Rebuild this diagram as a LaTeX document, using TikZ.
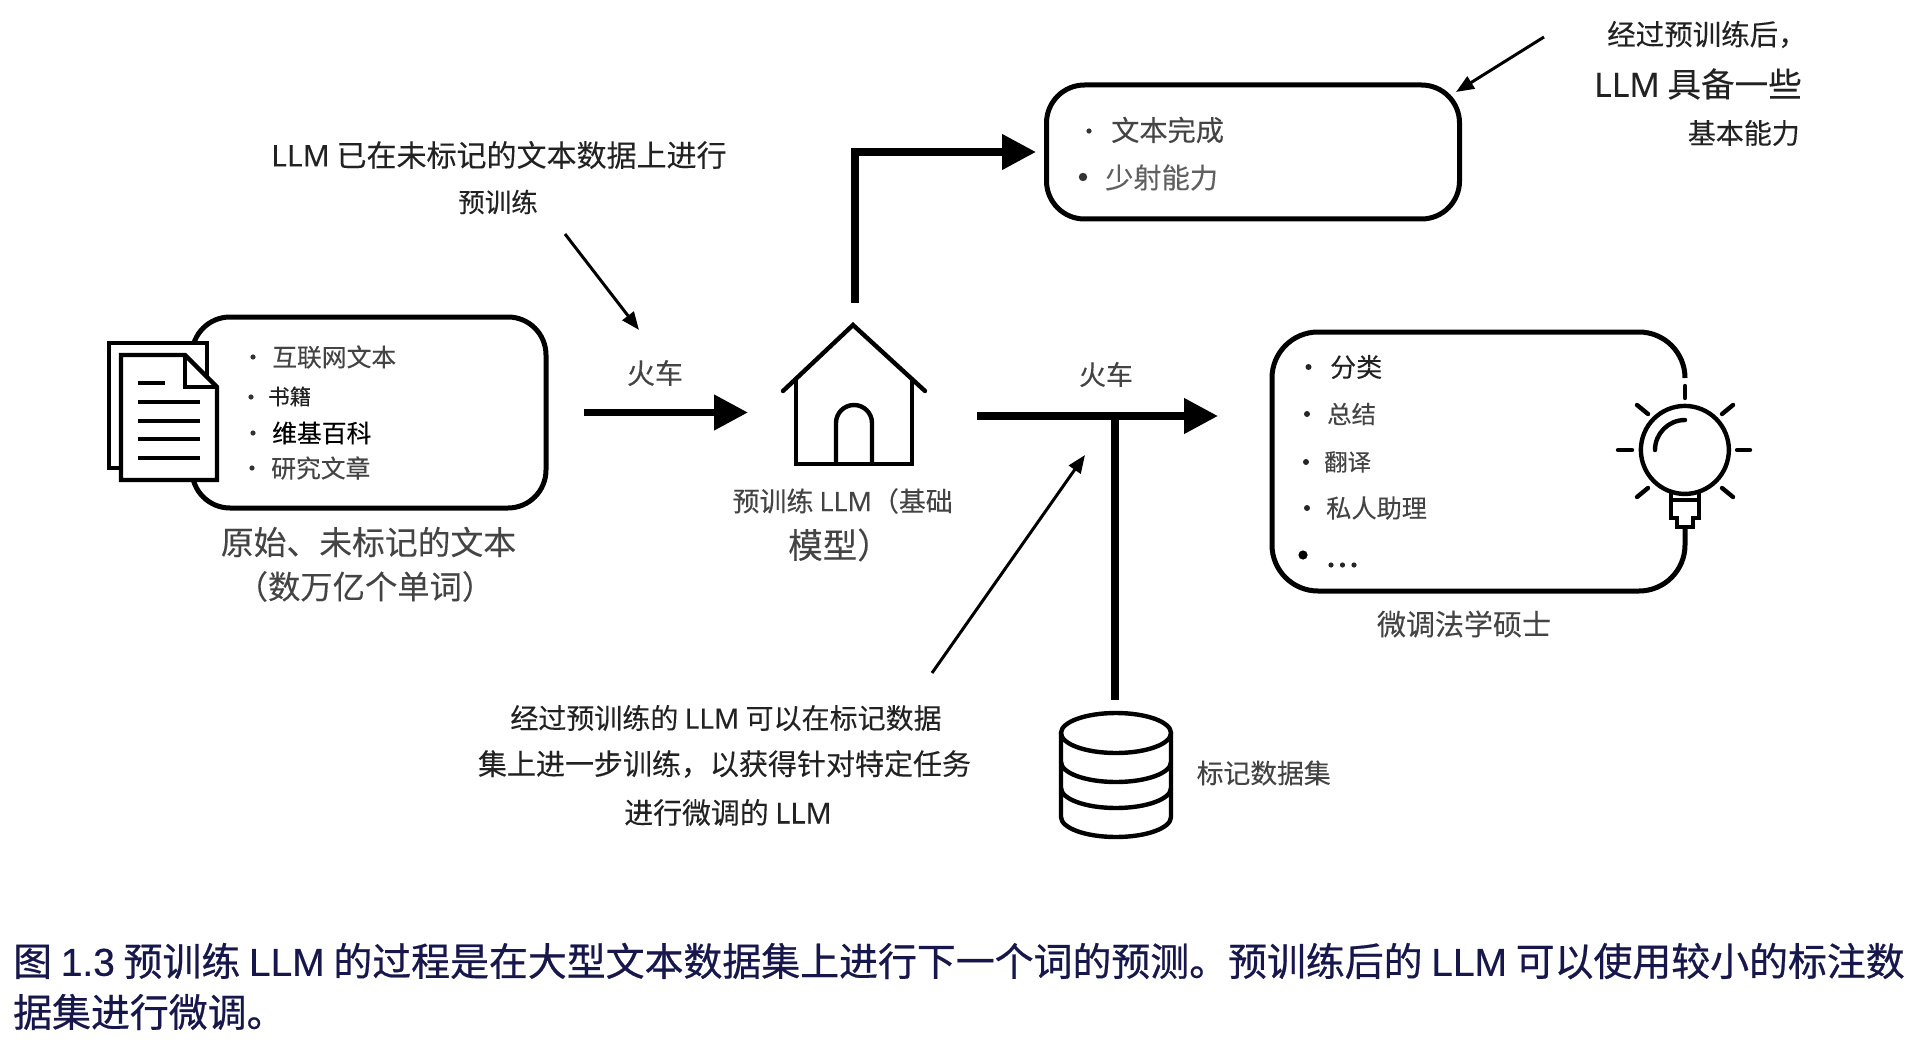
\documentclass[tikz,border=0pt]{standalone}
\usepackage{fontspec}
\usetikzlibrary{arrows.meta}
\setmainfont[FakeBold=0.15]{Noto Sans CJK SC}
\newfontfamily\latfont[FakeBold=0.15]{Noto Sans}
\newfontfamily\capcjk[FakeBold=0.6]{Noto Sans CJK SC}
\newfontfamily\capfont[FakeBold=0.4]{Liberation Sans}
\newcommand{\fs}[1]{\fontsize{#1}{#1}\selectfont}
\definecolor{txt}{HTML}{444444}
\definecolor{txtd}{HTML}{222222}
\definecolor{capc}{HTML}{17174C}
\tikzset{
  bigbox/.style={draw=black,line width=5pt,rounded corners=38pt,fill=white,inner sep=0pt},
  icon/.style={draw=black,line width=4.4pt,line join=miter},
  ray/.style={draw=black,line width=4.4pt,line cap=round},
  thick arrow/.style={draw=black,line width=7.5pt,-{Triangle[length=34pt,width=34pt]}},
  thin arrow/.style={draw=black,line width=3pt,-{Triangle[length=18pt,width=14pt]}},
  lbl/.style={inner sep=0pt,text=txt,align=center},
  lblw/.style={inner sep=0pt,text=txt,anchor=west},
  bullet/.style={fill=black!80},
}
\begin{document}
\begin{tikzpicture}[x=1pt,y=-1pt]
\useasboundingbox (0,0) rectangle (1914,1043);
\fill[white] (0,0) rectangle (1914,1043);

% --- source box
\node[bigbox,minimum width=354pt,minimum height=191pt] (srcbox) at (369,412.5) {};
% document icon
\path[icon,fill=white] (109,343) -- (207,343) -- (207,468) -- (109,468) -- cycle;
\path[icon,fill=white] (121,355) -- (185,355) -- (217,387) -- (217,480) -- (121,480) -- cycle;
\path[icon] (185,355) -- (185,387) -- (217,387);
\path[icon] (138,383) -- (165,383);
\foreach \yy in {402,421,439,458} \path[icon] (138,\yy) -- (200,\yy);

\foreach \xx/\yy in {253/357,251/397,253/433,252/468} \fill[bullet] (\xx,\yy) circle (2.6);
\node[lblw,font=\fs{24.8}] (s1) at (272,357) {互联网文本};
\node[lblw,font=\fs{21.5},text=txtd] (s2) at (268,396.5) {书籍};
\node[lblw,font=\fs{24.8},text=black] (s3) at (272,433) {维基百科};
\node[lblw,font=\fs{24.8}] (s4) at (271,468) {研究文章};
\node[lbl,font=\fs{32.8}] (srccap1) at (368.5,542) {原始、未标记的文本};
\node[lbl,font=\fs{32.3}] (srccap2) at (365,586.5) {（数万亿个单词）};

% --- training note
\node[lblw,font=\fs{30},text=txtd] (note1) at (271,155) {{\latfont LLM} 已在未标记的文本数据上进行};
\node[lbl,font=\fs{26.5},text=txtd] (note1b) at (498,202) {预训练};
\coordinate (n1s) at (565,234);
\coordinate (n1e) at (639,330);
\draw[thin arrow] (n1s) -- (n1e);

% --- arrow 1
\coordinate (a1s) at (584,412.5);
\coordinate (a1e) at (748,412.5);
\draw[thick arrow] (a1s) -- (a1e);
\node[lbl,font=\fs{28}] (train1) at (655,373) {火车};

% --- house
\path[icon,line cap=round] (783,391) -- (853,325) -- (925,391);
\path[icon] (796,380) -- (796,464) -- (912,464) -- (912,380);
\path[icon] (836,464) -- (836,423) arc[start angle=180,end angle=360,radius=18] -- (872,464);
\node[lblw,font=\fs{26.9}] (base1) at (732.5,501) {预训练 {\latfont LLM}（基础};
\node[lblw,font=\fs{34.5}] (base2) at (788,545) {模型）};

% --- up arrow
\coordinate (u1) at (855,303);
\coordinate (u2) at (855,152);
\coordinate (u3) at (1036,152);
\draw[thick arrow] (u1) -- (u2) -- (u3);

% --- top box
\node[bigbox,minimum width=413pt,minimum height=134pt] (topbox) at (1253,152) {};
\fill[bullet] (1089,131) circle (2.6);
\fill[bullet] (1083,177) circle (4.2);
\node[lblw,font=\fs{28.2}] (t1) at (1111,130) {文本完成};
\node[lblw,font=\fs{28.2},text=txt!85] (t2) at (1105,177.5) {少射能力};
\node[lblw,font=\fs{28.5},text=txtd] (c1) at (1607,34.5) {经过预训练后，};
\node[anchor=east,inner sep=0pt,font=\fs{33.6},text=txtd] (c2) at (1802,84) {{\latfont LLM} 具备一些};
\node[anchor=east,inner sep=0pt,font=\fs{28},text=txtd] (c3) at (1800,133) {基本能力};
\coordinate (c1s) at (1544,37);
\coordinate (c1e) at (1456,92);
\draw[thin arrow] (c1s) -- (c1e);

% --- main arrow 2
\coordinate (a2s) at (977,416);
\coordinate (a2e) at (1218,416);
\coordinate (vj) at (1115,416);
\coordinate (vb) at (1115,700);
\draw[thick arrow] (a2s) -- (a2e);
\draw[draw=black,line width=8pt] (vj) -- (vb);
\node[lbl,font=\fs{27}] (train2) at (1106,374.5) {火车};

% --- tuned box (open at the bulb)
\path[draw=black,line width=5pt] (1685,378) arc[start angle=0,end angle=-90,radius=46] -- (1318,332) arc[start angle=-90,end angle=-180,radius=46] -- (1272,545) arc[start angle=180,end angle=90,radius=46] -- (1639,591) arc[start angle=90,end angle=0,radius=46] -- (1685,528);

\foreach \xx/\yy in {1308.5/367,1307/414,1306/462,1307/508} \fill[black!85] (\xx,\yy) circle (3);
\fill[black] (1303,555) circle (4.6);
\node[lblw,font=\fs{26},text=txtd] (f1) at (1330,367) {分类};
\node[lblw,font=\fs{24.4}] (f2) at (1327,414) {总结};
\node[lblw,font=\fs{23.4}] (f3) at (1324,462) {翻译};
\node[lblw,font=\fs{25.2}] (f4) at (1326,508) {私人助理};
\foreach \xx in {1331,1342.5,1354} \fill[black!85] (\xx,565) circle (2.6);
\node[lbl,font=\fs{29}] (f5) at (1464,624) {微调法学硕士};

% bulb
\begin{scope}[xshift=-2pt]
\path[ray] (1687,386) -- (1687,398);
\path[ray] (1639,405) -- (1650,414);
\path[ray] (1735,405) -- (1724,414);
\path[ray] (1620,450) -- (1634,450);
\path[ray] (1739,450) -- (1752,450);
\path[ray] (1639,497) -- (1650,488);
\path[ray] (1735,497) -- (1724,488);
\path[icon] (1674,492) arc[start angle=107,end angle=-287,radius=44];
\path[icon] (1673,491) -- (1673,518) -- (1679,518) -- (1679,527) -- (1695,527) -- (1695,518) -- (1701,518) -- (1701,491);
\path[icon] (1673,500) -- (1701,500);
\path[icon,line cap=round] (1657,450) arc[start angle=180,end angle=270,radius=30];
\end{scope}

% --- dataset
\path[icon] (1116,733) ellipse[x radius=55,y radius=20];
\path[icon] (1061,733) -- (1061,817) arc[start angle=180,end angle=0,x radius=55,y radius=20] -- (1171,733);
\path[icon] (1061,762) arc[start angle=180,end angle=0,x radius=55,y radius=20];
\path[icon] (1061,788) arc[start angle=180,end angle=0,x radius=55,y radius=20];
\node[lblw,font=\fs{26.8}] (ds) at (1196.5,773) {标记数据集};

% --- fine-tune note
\node[lbl,font=\fs{28},text=txtd] (n2a) at (726,718) {经过预训练的 {\latfont LLM} 可以在标记数据};
\node[lbl,font=\fs{29},text=txtd] (n2b) at (724.5,764) {集上进一步训练，以获得针对特定任务};
\node[lbl,font=\fs{28.9},text=txtd] (n2c) at (728,812.5) {进行微调的 {\latfont LLM}};
\coordinate (n2s) at (932,673);
\coordinate (n2e) at (1085,455);
\draw[thin arrow] (n2s) -- (n2e);

% --- caption
\node[lblw,font={\fs{38.9}\capcjk},text=capc] (cap1) at (13,961) {图 {\capfont 1.3} 预训练 {\capfont LLM} 的过程是在大型文本数据集上进行下一个词的预测。预训练后的 {\capfont LLM} 可以使用较小的标注数};
\node[lblw,font={\fs{38.9}\capcjk},text=capc] (cap2) at (13,1012) {据集进行微调。};
\end{tikzpicture}
\end{document}
